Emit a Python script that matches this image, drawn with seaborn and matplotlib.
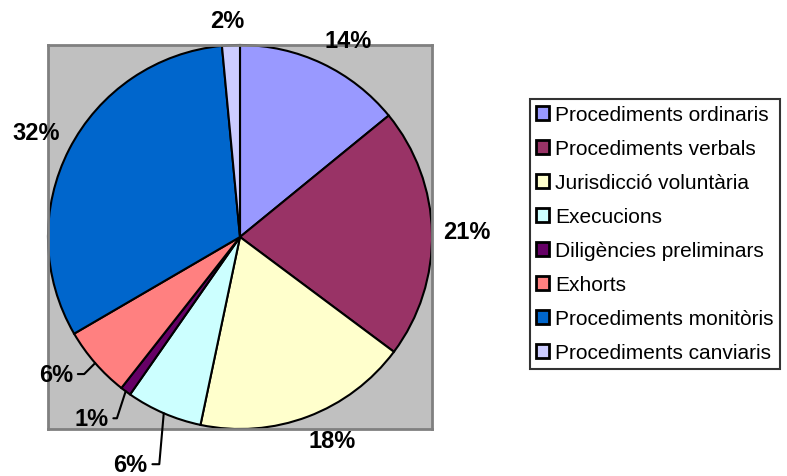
import numpy as np
import matplotlib
matplotlib.use("Agg")
import matplotlib.pyplot as plt
import seaborn as sns

# dades del gràfic
categories = ["Procediments ordinaris", "Procediments verbals", "Jurisdicció voluntària",
              "Execucions", "Diligències preliminars", "Exhorts",
              "Procediments monitòris", "Procediments canviaris"]
valors = [14.1, 21.1, 18.1, 6.4, 0.9, 6.0, 31.9, 1.5]
colors = ["#9999FF", "#993366", "#FFFFCC", "#CCFFFF", "#660066", "#FF8080", "#0066CC", "#CCCCFF"]
etiquetes = [f"{v:.0f}%" for v in valors]

sns.set_style("white")
plt.rcParams['font.family'] = ['Liberation Sans', 'DejaVu Sans']
plt.rcParams['text.color'] = 'black'

fig = plt.figure(figsize=(7.87, 4.77), dpi=100)
ax = fig.add_axes([48 / 787, 47 / 477, 384 / 787, 384 / 477])

wedges, _ = ax.pie(valors, colors=sns.color_palette(colors), startangle=90, counterclock=False,
                   radius=1, wedgeprops=dict(edgecolor="black", linewidth=1.5))
ax.set_frame_on(True)
ax.set_facecolor("#C0C0C0")
ax.set_xlim(-1, 1)
ax.set_ylim(-1, 1)
ax.set_aspect("equal")
for s in ax.spines.values():
    s.set_color("#808080")
    s.set_linewidth(2)

# etiquetes de percentatge (les petites amb línia guia)
petites = {3: (-16, -51, 85), 4: (-17, -27, 72), 5: (-22, -11, 45)}
for i, w in enumerate(wedges):
    ang = np.deg2rad((w.theta1 + w.theta2) / 2)
    c, s = np.cos(ang), np.sin(ang)
    if i in petites:
        dx, dy, angB = petites[i]
        ax.annotate(etiquetes[i], xy=(c, s), xytext=(dx, dy), textcoords="offset pixels",
                    ha="right", va="center", fontsize=17, fontweight="bold",
                    annotation_clip=False,
                    arrowprops=dict(arrowstyle="-", color="black", lw=1.5, shrinkA=1, shrinkB=0,
                                    relpos=(1, 0.5),
                                    connectionstyle=f"angle,angleA=0,angleB={angB},rad=0"))
    else:
        x = 1.08 * c + 0.10 * np.clip(3 * c, -1, 1)
        y = 1.08 * s + 0.05 * np.clip(3 * s, -1, 1)
        ax.text(x, y, etiquetes[i], ha="center", va="center",
                fontsize=17, fontweight="bold", clip_on=False)

leg = fig.legend(wedges, categories, loc="upper left", bbox_to_anchor=(530 / 787, 1 - 100 / 477),
                 borderaxespad=0, fontsize=15, frameon=True, fancybox=False,
                 handlelength=0.6, handleheight=0.6, handletextpad=0.3, labelspacing=0.72,
                 borderpad=0.3)
leg.get_frame().set_edgecolor("black")
leg.get_frame().set_linewidth(1.5)
for h in leg.legend_handles:
    h.set_linewidth(2)

fig.savefig("out.png", dpi=100)
